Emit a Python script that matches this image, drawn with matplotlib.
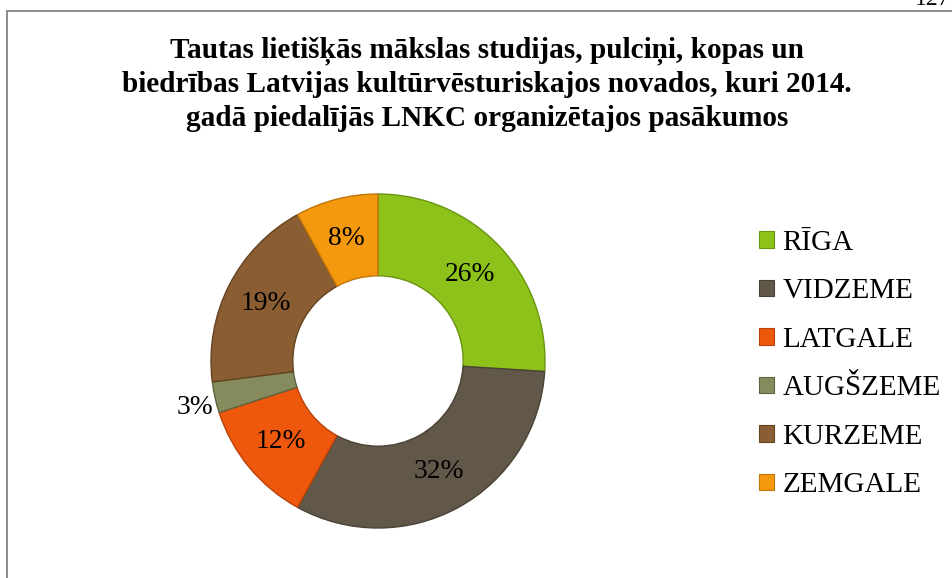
import numpy as np
import matplotlib
matplotlib.use("Agg")
import matplotlib.pyplot as plt
from matplotlib.patches import Patch, Rectangle

# Data
regions = ["RĪGA", "VIDZEME", "LATGALE", "AUGŠZEME", "KURZEME", "ZEMGALE"]
shares = [26, 32, 12, 3, 19, 8]
colors = ["#8DC21B", "#625849", "#EE580C", "#858B5C", "#8A5D33", "#F4980E"]
edge_colors = ["#6A9410", "#4A4236", "#B8420A", "#5F6440", "#65431F", "#C07508"]
title_lines = [
    "Tautas lietišķās mākslas studijas, pulciņi, kopas un",
    "biedrības Latvijas kultūrvēsturiskajos novados, kuri 2014.",
    "gadā piedalījās LNKC organizētajos pasākumos",
]

plt.rcParams["font.family"] = ["Liberation Serif", "DejaVu Serif"]

W, H = 952, 578
fig = plt.figure(figsize=(W / 100, H / 100), dpi=100)
fig.patch.set_facecolor("white")

# chart-area frame (runs off the right and bottom of the crop)
fig.patches.append(Rectangle((7 / W, -0.02), 1.2, (H - 11) / H + 0.02,
                             transform=fig.transFigure, fill=False,
                             edgecolor="#8C8C8C", linewidth=1.4))

# page number peeking in at the top
fig.text(915 / W, 1 - 5 / H, "127", fontsize=17, ha="left", va="baseline")

# title
for i, line in enumerate(title_lines):
    fig.text(487 / W, 1 - (57 + 34.5 * i) / H, line, fontsize=21.1,
             fontweight="bold", ha="center", va="baseline")

# donut
cx, cy, r = 378, 361, 167
ax = fig.add_axes([(cx - r) / W, (H - cy - r) / H, 2 * r / W, 2 * r / H])
wedges, _ = ax.pie(shares, colors=colors, startangle=90, counterclock=False,
                   radius=1.0, wedgeprops=dict(width=0.49, linewidth=1.0))
for w, ec in zip(wedges, edge_colors):
    w.set_edgecolor(ec)
ax.set_xlim(-1, 1)
ax.set_ylim(-1, 1)
ax.set_aspect("equal")
ax.axis("off")

total = sum(shares)
start = 90.0
for val in shares:
    sweep = 360.0 * val / total
    mid = np.deg2rad(start - sweep / 2)
    start -= sweep
    if val >= 5:
        ax.text(0.755 * np.cos(mid), 0.755 * np.sin(mid), f"{val}%", fontsize=19.8,
                ha="center", va="center", clip_on=False)
    else:
        ax.text(1.125 * np.cos(mid), 1.125 * np.sin(mid) - 0.035, f"{val}%", fontsize=19.8,
                ha="center", va="center", clip_on=False)

# legend
handles = [Patch(facecolor=c, edgecolor=e, linewidth=0.8) for c, e in zip(colors, edge_colors)]
fig.legend(handles, regions, loc="upper left", bbox_to_anchor=(759 / W, 1 - 230 / H),
           frameon=False, fontsize=21, handlelength=0.5, handleheight=0.5,
           handletextpad=0.3, labelspacing=0.77, borderpad=0, borderaxespad=0)

fig.savefig("out.png", dpi=100)
